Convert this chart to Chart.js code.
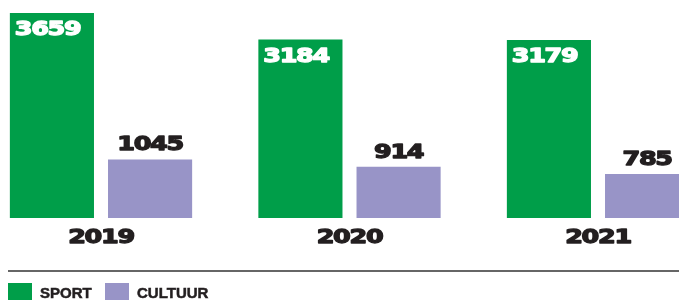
<!DOCTYPE html>
<html>
<head>
<meta charset="utf-8">
<script src="https://cdn.jsdelivr.net/npm/chart.js@4"></script>
<style>
  html, body { margin: 0; padding: 0; background: #fff; overflow: hidden; }
  #wrap { width: 679px; height: 300px; position: relative; }
</style>
</head>
<body>
<div id="wrap"><canvas id="ch" width="679" height="300"></canvas></div>
<script>
// jaren + waarden
const JAREN = ["2019", "2020", "2021"];
const SPORT = [3659, 3184, 3179];
const CULTUUR = [1045, 914, 785];
const REEKSEN = ["SPORT", "CULTUUR"];

const GROEN = "#009e49";
const PAARS = "#9894c7";
const INKT = "#231f20";

// breed, zwaar lettertype nabootsen: DejaVu Bold horizontaal uitgerekt + dikker
const CIJFER_FONT = "bold 19px 'DejaVu Sans'";
const REK = 1.34;

function rekTekst(ctx, txt, x, y, align) {
  ctx.save();
  ctx.translate(x, y);
  ctx.scale(REK, 1);
  ctx.textAlign = align;
  ctx.textBaseline = "alphabetic";
  ctx.letterSpacing = "-1px";
  ctx.lineWidth = 1.3;
  ctx.lineJoin = "round";
  ctx.strokeStyle = ctx.fillStyle;
  ctx.fillText(txt, 0, 0);
  ctx.strokeText(txt, 0, 0);
  ctx.restore();
}

const labelsPlugin = {
  id: "labels",
  afterDatasetsDraw(chart) {
    const ctx = chart.ctx;
    ctx.save();
    ctx.font = CIJFER_FONT;
    chart.data.datasets.forEach((ds, di) => {
      const meta = chart.getDatasetMeta(di);
      meta.data.forEach((bar, i) => {
        const txt = String(ds.data[i]);
        if (di === 0) {
          ctx.fillStyle = "#fff";
          rekTekst(ctx, txt, bar.x - bar.width / 2 + 5, bar.y + 22, "left");
        } else {
          ctx.fillStyle = INKT;
          rekTekst(ctx, txt, bar.x, bar.y - 9, "center");
        }
      });
    });
    // jaartallen onder de groepen
    const xs = chart.scales.x;
    const basis = chart.scales.y.getPixelForValue(0);
    ctx.fillStyle = INKT;
    JAREN.forEach((j, i) => {
      rekTekst(ctx, j, xs.getPixelForValue(i), basis + 25, "center");
    });
    ctx.restore();
  }
};

const legendePlugin = {
  id: "legende",
  afterDraw(chart) {
    const ctx = chart.ctx;
    ctx.save();
    // scheidingslijn
    ctx.strokeStyle = "#333";
    ctx.lineWidth = 1.5;
    ctx.beginPath();
    ctx.moveTo(8, 271);
    ctx.lineTo(chart.width, 271);
    ctx.stroke();
    // legenda
    ctx.font = "bold 15px 'Liberation Sans', Arial, sans-serif";
    ctx.textBaseline = "alphabetic";
    ctx.lineWidth = 0.5;
    const posities = [8, 105];
    chart.data.datasets.forEach((ds, di) => {
      const x = posities[di];
      ctx.fillStyle = ds.backgroundColor;
      ctx.fillRect(x, 283, 24, 20);
      ctx.fillStyle = INKT;
      ctx.strokeStyle = INKT;
      ctx.fillText(ds.label, x + 32, 298);
      ctx.strokeText(ds.label, x + 32, 298);
    });
    ctx.restore();
  }
};

new Chart(document.getElementById("ch"), {
  type: "bar",
  data: {
    labels: JAREN,
    datasets: [
      { label: REEKSEN[0], data: SPORT, backgroundColor: GROEN, clip: false },
      { label: REEKSEN[1], data: CULTUUR, backgroundColor: PAARS, clip: false }
    ]
  },
  options: {
    responsive: false,
    animation: false,
    devicePixelRatio: 1,
    categoryPercentage: 0.79,
    barPercentage: 0.857,
    layout: { padding: { left: 101, right: 81, top: 13, bottom: 82 } },
    plugins: { legend: { display: false }, tooltip: { enabled: false } },
    scales: {
      x: { display: false, offset: false, grid: { display: false } },
      y: { display: false, min: 0, max: 3659 }
    }
  },
  plugins: [labelsPlugin, legendePlugin]
});
</script>
</body>
</html>
